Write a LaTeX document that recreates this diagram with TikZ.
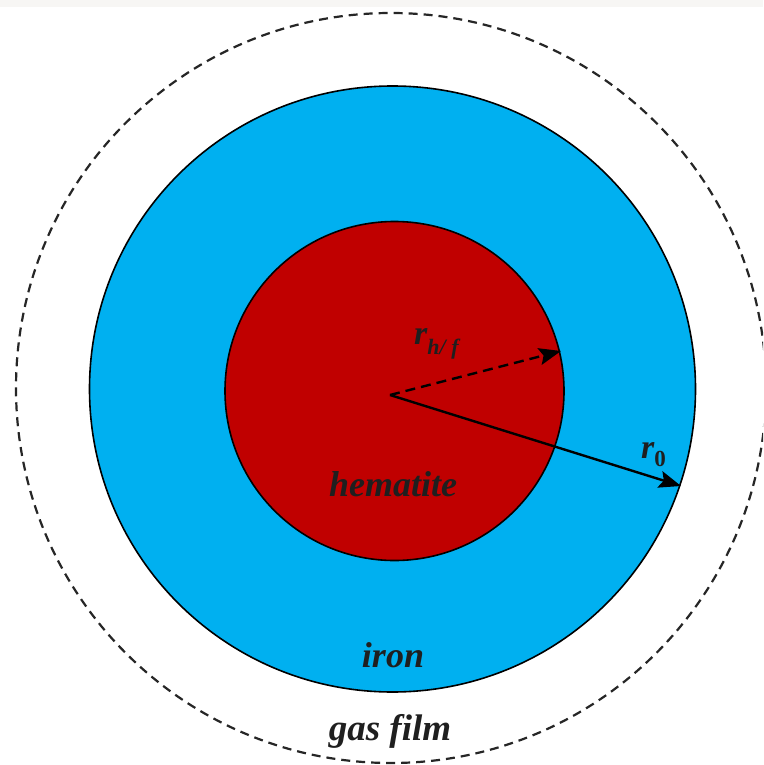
\documentclass[tikz,border=0pt]{standalone}
\usepackage{fontspec}
\setmainfont{Liberation Serif}
\usetikzlibrary{arrows.meta}
\definecolor{ironblue}{HTML}{00B0F0}
\definecolor{hemred}{HTML}{C00000}
\definecolor{topgray}{HTML}{F7F6F4}
\begin{document}
\begin{tikzpicture}[x=1pt,y=-1pt,
  lbl/.style={font=\fontsize{36}{42}\selectfont\bfseries\itshape, inner sep=0pt, text=black!88},
  rlbl/.style={font=\fontsize{34}{40}\selectfont\bfseries\itshape, inner sep=0pt, text=black!88},
  region/.style={draw=black, line width=1.6pt},
  gasline/.style={draw=black!85, line width=2.2pt, dash pattern=on 9pt off 6pt},
  radarrow/.style={draw=black, line width=2.4pt, -{Stealth[length=22pt,width=17pt,inset=4pt]}},
]
\useasboundingbox (0,0) rectangle (763,765);
\fill[white] (0,0) rectangle (763,765);
\fill[topgray] (0,0) rectangle (763,7);
\begin{scope}
  \clip (0,0) rectangle (763,765);
  \draw[gasline] (391,388) circle[radius=375];
\end{scope}
\draw[region, fill=ironblue] (392.5,389) circle[radius=303];
\draw[region, fill=hemred] (394.5,391) circle[radius=169.5];
\coordinate (c) at (390,395);
\coordinate (rhf) at (561,351);
\coordinate (r0) at (681,486);
\draw[radarrow, dash pattern=on 10pt off 6pt] (c) -- (rhf);
\draw[radarrow] (c) -- (r0);
\node[rlbl, anchor=base west] (lrhf) at (414,344) {r\raisebox{-0.3em}{\fontsize{22}{26}\selectfont h/ f}};
\node[rlbl, anchor=base west] (lr0) at (641,458) {r\raisebox{-0.25em}{\fontsize{23}{27}\selectfont\upshape 0}};
\node[lbl, anchor=base] (hem) at (393,496) {hematite};
\node[lbl, anchor=base] (iron) at (393,667) {iron};
\node[lbl, anchor=base] (gas) at (390,740) {\fontsize{37}{43}\selectfont gas film};
\end{tikzpicture}
\end{document}
